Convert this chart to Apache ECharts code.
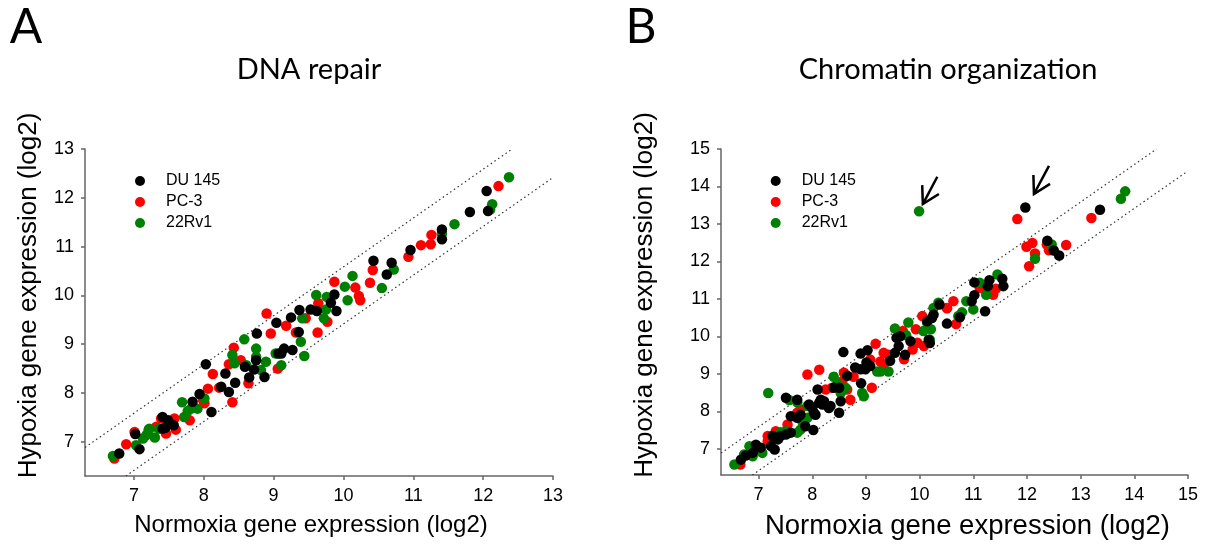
<!DOCTYPE html>
<html><head><meta charset="utf-8">
<script src="https://cdn.jsdelivr.net/npm/echarts@6/dist/echarts.min.js"></script>
<style>html,body{margin:0;padding:0;background:#fff}#c{width:1210px;height:550px}</style>
</head><body><div id="c"></div>
<script>
const seriesNames = ['DU 145', 'PC-3', '22Rv1'];
const seriesColors = ['#000000', '#ff0000', '#008000'];
const ticksA = [7, 8, 9, 10, 11, 12, 13];
const ticksB = [7, 8, 9, 10, 11, 12, 13, 14, 15];
const panelTitles = ['DNA repair', 'Chromatin organization'];
const panelLetters = ['A', 'B'];
const xTitle = 'Normoxia gene expression (log2)';
const yTitle = 'Hypoxia gene expression (log2)';
const foldOffset = Math.log2(1.5);

// Panel A: DNA repair  [normoxia, hypoxia]
const A_DU145 = [[6.79,6.76],[7.02,7.16],[7.08,6.85],[7.41,7.51],[7.49,7.44],[7.57,7.34],[7.41,7.27],[7.45,7.29],[7.84,7.82],[7.94,7.98],[8.03,8.59],[8.11,7.61],[8.25,8.13],[8.31,8.40],[8.36,8.02],[8.45,8.21],[8.59,8.54],[8.65,8.32],[8.75,8.67],[8.72,8.48],[8.76,9.22],[8.87,8.33],[9.04,9.44],[9.07,8.81],[9.15,8.91],[9.11,8.81],[9.27,8.88],[9.25,9.55],[9.36,9.25],[9.37,9.70],[9.53,9.71],[9.62,9.68],[9.82,9.85],[9.90,9.68],[9.87,10.02],[10.43,10.71],[10.69,10.67],[10.62,10.43],[10.96,10.93],[11.41,11.35],[11.41,11.15],[11.81,11.71],[12.05,12.14],[12.07,11.73]];
const A_PC3 = [[6.72,6.66],[6.89,6.95],[7.01,7.20],[7.32,7.31],[7.39,7.48],[7.46,7.17],[7.58,7.48],[7.60,7.25],[7.80,7.44],[8.01,7.79],[8.06,8.09],[8.13,8.39],[7.99,7.85],[8.22,8.11],[8.41,7.81],[8.36,8.59],[8.43,8.93],[8.53,8.67],[8.64,8.20],[8.90,9.63],[8.96,9.22],[9.06,8.50],[9.18,9.38],[9.32,9.24],[9.46,9.53],[9.63,9.24],[9.64,9.84],[9.77,9.46],[9.87,10.28],[10.17,10.16],[10.22,9.99],[10.24,9.90],[10.38,10.26],[10.42,10.52],[10.93,10.79],[11.11,11.03],[11.25,11.05],[11.26,11.24],[12.22,12.24]];
const A_22Rv1 = [[6.70,6.71],[7.03,6.93],[7.13,7.07],[7.21,7.24],[7.18,7.14],[7.30,7.09],[7.36,7.27],[7.22,7.27],[7.69,7.81],[7.77,7.63],[7.72,7.51],[7.91,7.68],[8.01,7.89],[7.82,7.68],[8.41,8.78],[8.44,8.61],[8.58,9.10],[8.75,8.91],[8.75,8.74],[8.61,8.57],[8.89,8.64],[8.82,8.47],[9.03,8.81],[9.11,8.57],[9.39,9.05],[9.44,8.76],[9.41,9.53],[9.72,9.53],[9.75,9.71],[9.61,10.01],[9.76,9.97],[10.02,10.18],[10.06,9.90],[10.13,10.40],[10.55,10.15],[10.72,10.53],[11.41,11.27],[11.59,11.46],[12.13,11.87],[12.10,11.76],[12.37,12.42]];

// Panel B: Chromatin organization
const B_DU145 = [[6.67,6.71],[6.76,6.82],[6.89,6.89],[6.95,7.11],[7.04,7.03],[7.23,7.07],[7.30,6.98],[7.26,7.34],[7.36,7.25],[7.41,7.34],[7.51,7.38],[7.60,7.43],[7.60,7.87],[7.72,7.83],[7.78,7.91],[7.87,7.60],[8.02,7.50],[7.51,8.36],[7.72,8.31],[7.94,8.18],[8.00,8.09],[8.03,7.96],[8.06,7.91],[8.13,8.23],[8.16,8.31],[8.22,8.27],[8.19,8.18],[8.10,8.58],[8.31,8.09],[8.34,8.14],[8.40,8.63],[8.50,8.63],[8.50,7.96],[8.53,8.27],[8.58,9.58],[8.65,8.95],[8.80,9.17],[8.90,9.12],[8.91,8.75],[8.99,9.12],[9.01,9.30],[9.08,9.21],[9.03,9.63],[8.90,9.54],[9.45,9.35],[9.54,9.56],[9.61,9.74],[9.57,9.96],[9.64,10.00],[9.73,9.51],[9.83,9.87],[10.37,10.85],[10.51,10.34],[10.17,9.91],[10.19,9.82],[10.14,10.40],[10.23,10.49],[10.26,10.58],[10.75,10.51],[10.97,10.94],[11.02,11.10],[11.02,11.44],[11.22,10.67],[11.27,11.34],[11.30,11.50],[11.54,11.54],[11.56,11.34],[11.97,13.44],[12.38,12.55],[12.50,12.29],[12.60,12.16],[13.36,13.38]];
const B_PC3 = [[6.66,6.58],[7.17,7.34],[7.17,7.20],[7.32,7.47],[7.54,7.65],[7.72,7.91],[7.78,8.05],[7.72,7.96],[7.91,8.98],[8.13,9.11],[8.25,8.58],[8.37,8.63],[8.56,8.80],[8.59,9.03],[8.65,8.58],[8.71,8.31],[8.77,8.92],[9.08,9.38],[9.11,8.63],[9.18,9.80],[9.27,9.33],[9.33,9.25],[9.33,9.56],[9.42,9.51],[9.71,9.39],[9.69,10.14],[9.87,9.65],[9.93,10.19],[9.96,9.83],[10.05,10.54],[10.08,9.74],[10.51,10.76],[10.63,10.94],[10.51,10.75],[10.68,10.33],[11.12,11.29],[11.37,11.11],[11.42,11.27],[11.82,13.13],[11.99,12.39],[12.04,11.87],[12.10,12.49],[12.15,12.21],[12.37,12.45],[12.41,12.30],[12.73,12.44],[13.20,13.16]];
const B_22Rv1 = [[6.55,6.58],[6.73,6.85],[6.83,7.07],[6.89,6.80],[7.07,6.89],[7.18,8.49],[7.41,7.44],[7.51,7.47],[7.57,8.30],[7.72,7.43],[7.78,7.51],[7.72,8.24],[7.82,7.71],[7.91,7.83],[7.91,8.14],[8.40,8.92],[8.47,8.74],[8.53,8.49],[8.62,8.63],[8.93,8.49],[8.96,8.40],[9.21,9.06],[9.27,9.06],[9.42,9.06],[9.54,10.21],[9.75,10.03],[9.79,10.37],[9.99,13.34],[10.07,10.14],[10.14,10.36],[10.19,9.91],[10.21,10.19],[10.26,10.76],[10.35,10.90],[10.72,10.54],[10.79,10.64],[10.87,10.94],[11.00,10.72],[11.12,11.43],[11.24,11.11],[11.45,11.65],[12.15,12.07],[12.46,12.45],[13.75,13.67],[13.83,13.87]];

// Arrow annotations in panel B: [tipX, tipY, tailX, tailY]
const arrowsB = [[10.06,13.53,10.33,14.26],[12.13,13.80,12.41,14.55]];

const rangeA = [6.3, 13];
const rangeB = [6.3, 15];

const FONT = "'Liberation Sans', Arial, sans-serif";
const TFONT = "Lato, 'Open Sans', sans-serif";

function shiftPad(shift) {
  return shift < 0 ? [0, -2 * shift, 0, 0] : [0, 0, 0, 2 * shift];
}
function xAxis(gi, r, ticks, size, shift) {
  return {
    type: 'value', gridIndex: gi, min: r[0], max: r[1],
    axisLine: { onZero: false, lineStyle: { color: '#666', width: 1.5 } },
    axisTick: { show: true, length: 4, customValues: ticks, lineStyle: { color: '#666', width: 1.5 } },
    axisLabel: { customValues: ticks, color: '#000', fontSize: 18, fontFamily: FONT, margin: 11 },
    splitLine: { show: false },
    name: xTitle, nameLocation: 'middle', nameGap: 37,
    nameTextStyle: { fontSize: size, color: '#000', fontFamily: FONT, padding: shiftPad(shift) }
  };
}
function yAxis(gi, r, ticks, gap, shift) {
  return {
    type: 'value', gridIndex: gi, min: r[0], max: r[1],
    axisLine: { onZero: false, lineStyle: { color: '#666', width: 1.5 } },
    axisTick: { show: true, length: 4, customValues: ticks, lineStyle: { color: '#666', width: 1.5 } },
    axisLabel: { customValues: ticks, color: '#000', fontSize: 18, fontFamily: FONT, margin: 11 },
    splitLine: { show: false },
    name: yTitle, nameLocation: 'middle', nameGap: gap,
    nameTextStyle: { fontSize: 26, color: '#000', fontFamily: FONT, padding: shiftPad(shift) }
  };
}
function foldLines(gi, r) {
  const f = foldOffset;
  const style = { type: [1.5, 3], color: '#333', width: 1.2 };
  return [
    { type: 'line', xAxisIndex: gi, yAxisIndex: gi, data: [[r[0], r[0] + f], [r[1] - f, r[1]]], symbol: 'none', lineStyle: style, silent: true, z: 1 },
    { type: 'line', xAxisIndex: gi, yAxisIndex: gi, data: [[r[0] + f, r[0]], [r[1], r[1] - f]], symbol: 'none', lineStyle: style, silent: true, z: 1 }
  ];
}
function scatter(gi, name, color, data) {
  return { type: 'scatter', name, xAxisIndex: gi, yAxisIndex: gi, data, symbol: 'circle', symbolSize: 10.5,
    itemStyle: { color, opacity: 1 }, z: 3 };
}
function legend(left) {
  return {
    data: seriesNames, orient: 'vertical', left, top: 173, padding: 0,
    icon: 'circle', itemWidth: 10, itemHeight: 10, itemGap: 5, selectedMode: false,
    formatter: '{t|{name}}',
    textStyle: { fontSize: 16, lineHeight: 15, color: '#000', fontFamily: FONT,
      rich: { t: { fontSize: 16, lineHeight: 15, color: '#000', fontFamily: FONT, padding: [0, 0, 0, 16] } } }
  };
}

const chart = echarts.init(document.getElementById('c'));
const panelsData = [[A_DU145, A_PC3, A_22Rv1], [B_DU145, B_PC3, B_22Rv1]];
const series = [];
series.push(...foldLines(0, rangeA), ...foldLines(1, rangeB));
[1, 2, 0].forEach(k => {
  series.push(scatter(0, seriesNames[k], seriesColors[k], panelsData[0][k]));
  series.push(scatter(1, seriesNames[k], seriesColors[k], panelsData[1][k]));
});
series.push({
  type: 'custom', xAxisIndex: 1, yAxisIndex: 1, data: arrowsB, silent: true, z: 5, clip: false,
  renderItem: function (params, api) {
    const tip = api.coord([api.value(0), api.value(1)]);
    const tail = api.coord([api.value(2), api.value(3)]);
    const ang = Math.atan2(tail[1] - tip[1], tail[0] - tip[0]);
    const L = 19, s = 0.52;
    const a1 = [tip[0] + L * Math.cos(ang + s), tip[1] + L * Math.sin(ang + s)];
    const a2 = [tip[0] + L * Math.cos(ang - s), tip[1] + L * Math.sin(ang - s)];
    return { type: 'group', children: [
      { type: 'line', shape: { x1: tail[0], y1: tail[1], x2: tip[0], y2: tip[1] }, style: { stroke: '#000', lineWidth: 2.5 } },
      { type: 'polyline', shape: { points: [a1, tip, a2] }, style: { stroke: '#000', fill: null, lineWidth: 2.5 } }
    ] };
  }
});

chart.setOption({
  animation: false,
  backgroundColor: '#fff',
  grid: [
    { left: 85, top: 149, width: 468, height: 327 },
    { left: 721, top: 149, width: 467, height: 326 }
  ],
  xAxis: [xAxis(0, rangeA, ticksA, 24, -8), xAxis(1, rangeB, ticksB, 27.5, 13)],
  yAxis: [yAxis(0, rangeA, ticksA, 43, 17), yAxis(1, rangeB, ticksB, 63, 17)],
  legend: [legend(135), legend(770.7)],
  graphic: [
    { type: 'text', x: 26, y: 28, style: { text: panelLetters[0], fontSize: 48, fontFamily: TFONT, fill: '#000', align: 'center', verticalAlign: 'middle' } },
    { type: 'text', x: 641, y: 28, style: { text: panelLetters[1], fontSize: 48, fontFamily: TFONT, fill: '#000', align: 'center', verticalAlign: 'middle' } },
    { type: 'text', x: 309, y: 70, style: { text: panelTitles[0], fontSize: 29, fontFamily: TFONT, fill: '#000', align: 'center', verticalAlign: 'middle' } },
    { type: 'text', x: 948, y: 70, style: { text: panelTitles[1], fontSize: 29, fontFamily: TFONT, fill: '#000', align: 'center', verticalAlign: 'middle' } }
  ],
  series
});
</script></body></html>
